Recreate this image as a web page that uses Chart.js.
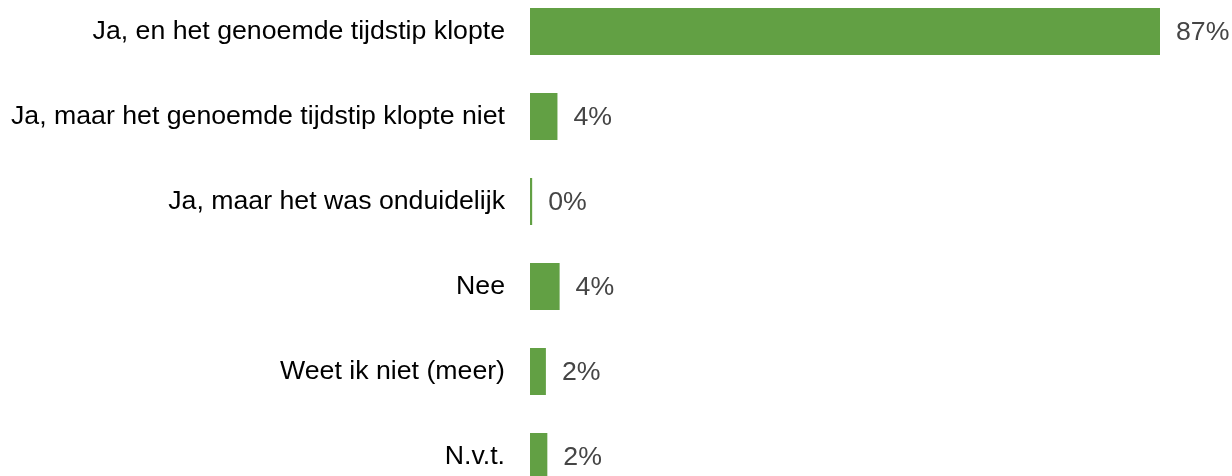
<!DOCTYPE html>
<html>
<head>
<meta charset="utf-8">
<script src="https://cdn.jsdelivr.net/npm/chart.js@4/dist/chart.umd.min.js"></script>
<style>
html,body{margin:0;padding:0;background:#fff;overflow:hidden;width:1232px;height:476px;}
#c{position:absolute;left:0;top:-11px;}
</style>
</head>
<body>
<canvas id="c" width="1232" height="510" style="width:1232px;height:510px;"></canvas>
<script>
const categories = [
  "Ja, en het genoemde tijdstip klopte",
  "Ja, maar het genoemde tijdstip klopte niet",
  "Ja, maar het was onduidelijk",
  "Nee",
  "Weet ik niet (meer)",
  "N.v.t."
];
const values = [87.2, 3.8, 0.3, 4.1, 2.2, 2.4];
const valueLabels = ["87%", "4%", "0%", "4%", "2%", "2%"];

const FONT = "'Liberation Sans', Arial, sans-serif";

const valueLabelPlugin = {
  id: 'valueLabels',
  afterDatasetsDraw(chart) {
    const ctx = chart.ctx;
    const meta = chart.getDatasetMeta(0);
    ctx.save();
    ctx.font = "26.7px " + FONT;
    ctx.fillStyle = "#454545";
    ctx.textAlign = "left";
    ctx.textBaseline = "middle";
    meta.data.forEach((bar, i) => {
      ctx.fillText(valueLabels[i], bar.x + 16, bar.y + 1);
    });
    ctx.restore();
  }
};

new Chart(document.getElementById('c'), {
  type: 'bar',
  data: {
    labels: categories,
    datasets: [{
      data: values,
      backgroundColor: '#62A044',
      borderWidth: 0,
      categoryPercentage: 1,
      barPercentage: 0.553
    }]
  },
  options: {
    indexAxis: 'y',
    responsive: false,
    animation: false,
    devicePixelRatio: 1,
    layout: { padding: { left: 0, right: 72, top: 0, bottom: 0 } },
    plugins: { legend: { display: false }, tooltip: { enabled: false } },
    scales: {
      x: { display: false, min: 0, max: 87.2 },
      y: {
        grid: { display: false, drawTicks: false },
        border: { display: false },
        ticks: { color: '#000', font: { family: FONT, size: 26.7 }, padding: 25 },
        afterFit(scale) { scale.width = 530; scale.paddingTop = 0; scale.paddingBottom = 0; }
      }
    }
  },
  plugins: [valueLabelPlugin]
});
</script>
</body>
</html>
